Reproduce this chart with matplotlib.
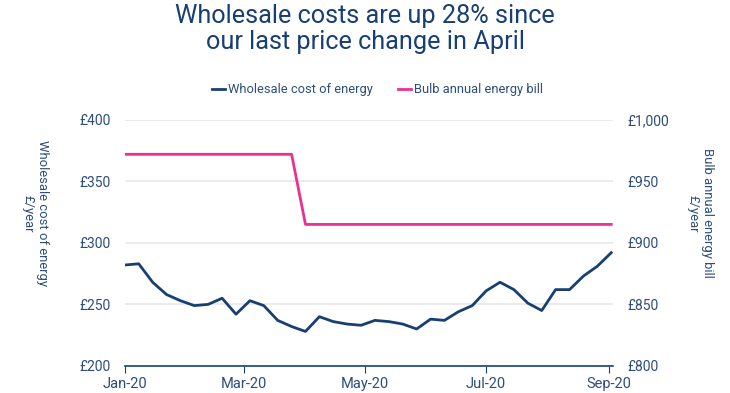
import matplotlib.pyplot as plt
import matplotlib.dates as mdates
import pandas as pd

# weekly points, Jan 2020 to early Sep 2020
weeks = pd.date_range("2020-01-01", periods=36, freq="7D")

wholesale = [282, 283, 268, 258, 253, 249, 250, 255, 242, 253, 249, 237,
             232, 228, 240, 236, 234, 233, 237, 236, 234, 230, 238, 237,
             244, 249, 261, 268, 262, 251, 245, 262, 262, 273, 281, 292]

bulb_bill = [972] * 13 + [915] * 23

left_ticks = [200, 250, 300, 350, 400]
right_ticks = [800, 850, 900, 950, 1000]

navy = "#173f74"
pink = "#ec2f93"
text_col = "#2d4d7c"
grid_col = "#e8e8e8"

plt.rcParams["font.family"] = ["Roboto", "DejaVu Sans"]

fig = plt.figure(figsize=(7.3, 3.93), dpi=100)
ax = fig.add_axes([0.171, 0.069, 0.669, 0.626])
ax2 = ax.twinx()

ax.plot(weeks, wholesale, color=navy, lw=2, label="Wholesale cost of energy")
ax2.plot(weeks, bulb_bill, color=pink, lw=2, label="Bulb annual energy bill")

ax.set_ylim(200, 400)
ax2.set_ylim(800, 1000)
ax.set_yticks(left_ticks)
ax2.set_yticks(right_ticks)
ax.set_yticklabels(["£{:,}".format(v) for v in left_ticks])
ax2.set_yticklabels(["£{:,}".format(v) for v in right_ticks])

ax.set_xlim(pd.Timestamp("2020-01-01"), pd.Timestamp("2020-09-03"))
ax.xaxis.set_major_locator(mdates.MonthLocator(bymonth=[1, 3, 5, 7, 9]))
ax.xaxis.set_major_formatter(mdates.DateFormatter("%b-%y"))

for a in (ax, ax2):
    for side in ["top", "left", "right", "bottom"]:
        a.spines[side].set_visible(False)
    a.tick_params(axis="y", length=0, labelsize=10, labelcolor=text_col, pad=10)
ax.spines["bottom"].set_visible(True)
ax.spines["bottom"].set_color(navy)
ax.spines["bottom"].set_linewidth(1.2)
ax.tick_params(axis="x", length=5, color=navy, labelsize=10.5, labelcolor=text_col, pad=3)

for v in left_ticks[1:]:
    ax.axhline(v, color=grid_col, lw=1.2, zorder=0)

ax.set_ylabel("Wholesale cost of energy\n£/year", rotation=270, color=text_col,
              fontsize=9.4, va="center", ha="center")
ax2.set_ylabel("Bulb annual energy bill\n£/year", rotation=270, color=text_col,
               fontsize=9.4, va="center", ha="center")
ax.yaxis.set_label_coords(-0.184, 0.62)
ax2.yaxis.set_label_coords(1.178, 0.62)

fig.text(0.5, 0.99, "Wholesale costs are up 28% since\nour last price change in April",
         ha="center", va="top", fontsize=18.2, color=navy, linespacing=1.1)

h1, l1 = ax.get_legend_handles_labels()
h2, l2 = ax2.get_legend_handles_labels()
fig.legend(h1 + h2, l1 + l2, loc="center", bbox_to_anchor=(0.517, 0.772), ncol=2,
           frameon=False, fontsize=9.3, labelcolor=text_col, handlelength=1.0,
           handletextpad=0.2, columnspacing=2.0)

fig.savefig("out.png", dpi=100)
